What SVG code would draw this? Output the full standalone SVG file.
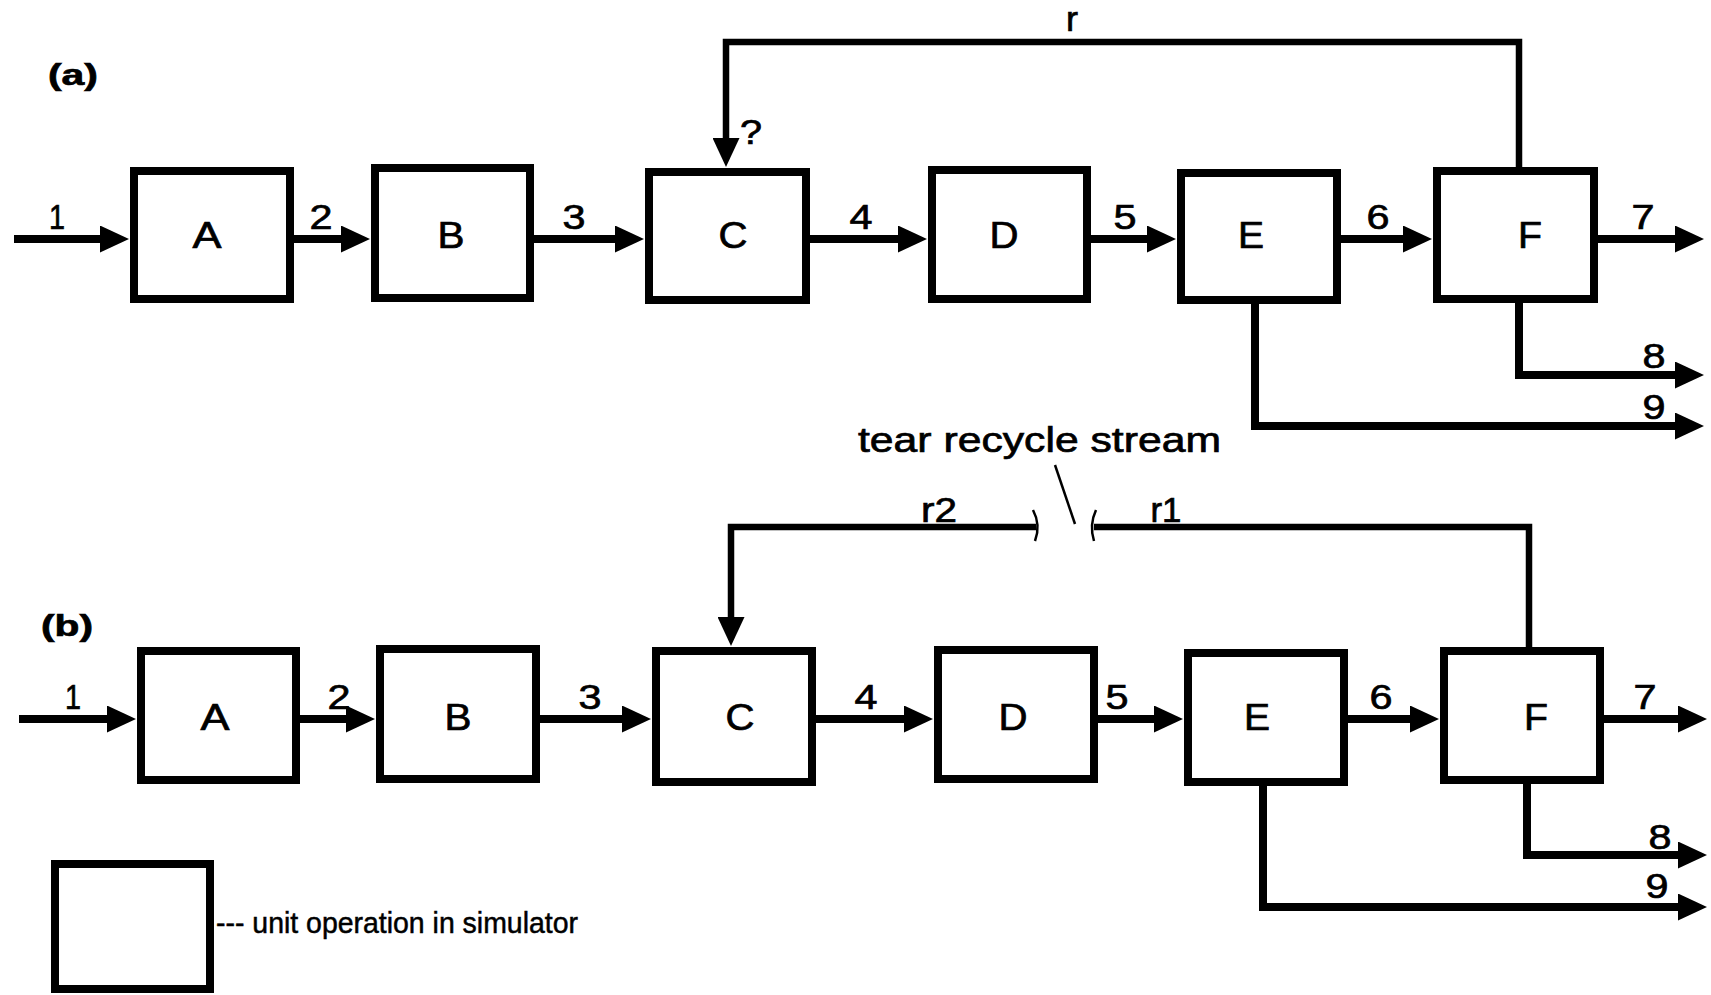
<svg xmlns="http://www.w3.org/2000/svg" width="1711" height="995" viewBox="0 0 1711 995">
<style>
.box{fill:#fff;stroke:#000;stroke-width:8}
.ln{fill:none;stroke:#000;stroke-width:8;stroke-linejoin:miter;stroke-linecap:butt}
.rc{fill:none;stroke:#000;stroke-width:6.5}
.arr{marker-end:url(#ah)}
.t{font-family:"Liberation Sans",Arial,sans-serif;fill:#000;stroke:#000;stroke-width:0.7;text-anchor:middle}
.lt{font-size:36px}
.dg{font-size:35px}
.pl{font-size:30px;font-weight:bold}
.thin{fill:none;stroke:#000;stroke-width:2.5}
</style>
<defs>
<marker id="ah" markerUnits="userSpaceOnUse" markerWidth="29" markerHeight="27" refX="15" refY="13.5" orient="auto" viewBox="0 0 29 27">
<path d="M0,0 L29,13.5 L0,27 Z" fill="#000"/>
</marker>
</defs>
<rect width="1711" height="995" fill="#fff"/>

<!-- Panel (a) -->
<text class="t pl" x="73" y="85" textLength="50" lengthAdjust="spacingAndGlyphs">(a)</text>
<g id="connectors-a">
<line class="ln arr" x1="14" y1="239" x2="115" y2="239"/>
<line class="ln arr" x1="294" y1="239" x2="356" y2="239"/>
<line class="ln arr" x1="534" y1="239" x2="630" y2="239"/>
<line class="ln arr" x1="810" y1="239" x2="913" y2="239"/>
<line class="ln arr" x1="1091" y1="239" x2="1162" y2="239"/>
<line class="ln arr" x1="1341" y1="239" x2="1418" y2="239"/>
<line class="ln arr" x1="1598" y1="239" x2="1690" y2="239"/>
<polyline class="rc arr" points="1519,167 1519,42 726,42 726,153"/>
<polyline class="ln arr" points="1519,303 1519,375 1690,375"/>
<polyline class="ln arr" points="1255,304 1255,426 1690,426"/>
<text class="t dg" x="57" y="229" textLength="16" lengthAdjust="spacingAndGlyphs">1</text>
<text class="t dg" x="321" y="229" textLength="23" lengthAdjust="spacingAndGlyphs">2</text>
<text class="t dg" x="574" y="229" textLength="23" lengthAdjust="spacingAndGlyphs">3</text>
<text class="t dg" x="861" y="229" textLength="23" lengthAdjust="spacingAndGlyphs">4</text>
<text class="t dg" x="1125" y="229" textLength="23" lengthAdjust="spacingAndGlyphs">5</text>
<text class="t dg" x="1378" y="229" textLength="23" lengthAdjust="spacingAndGlyphs">6</text>
<text class="t dg" x="1643" y="229" textLength="23" lengthAdjust="spacingAndGlyphs">7</text>
<text class="t dg" x="1654" y="368" textLength="23" lengthAdjust="spacingAndGlyphs">8</text>
<text class="t dg" x="1654" y="419" textLength="23" lengthAdjust="spacingAndGlyphs">9</text>
<text class="t dg" x="1072" y="31" textLength="12" lengthAdjust="spacingAndGlyphs">r</text>
<text class="t dg" x="751" y="144" textLength="22" lengthAdjust="spacingAndGlyphs">?</text>
</g>
<g id="a-A"><rect class="box" x="134" y="171" width="156" height="128"/><text class="t lt" x="207" y="248" textLength="29" lengthAdjust="spacingAndGlyphs">A</text></g>
<g id="a-B"><rect class="box" x="375" y="168" width="155" height="130"/><text class="t lt" x="451" y="248" textLength="27" lengthAdjust="spacingAndGlyphs">B</text></g>
<g id="a-C"><rect class="box" x="649" y="172" width="157" height="128"/><text class="t lt" x="733" y="248" textLength="29" lengthAdjust="spacingAndGlyphs">C</text></g>
<g id="a-D"><rect class="box" x="932" y="170" width="155" height="129"/><text class="t lt" x="1004" y="248" textLength="29" lengthAdjust="spacingAndGlyphs">D</text></g>
<g id="a-E"><rect class="box" x="1181" y="173" width="156" height="127"/><text class="t lt" x="1251" y="248" textLength="26" lengthAdjust="spacingAndGlyphs">E</text></g>
<g id="a-F"><rect class="box" x="1437" y="171" width="157" height="128"/><text class="t lt" x="1530" y="248" textLength="24" lengthAdjust="spacingAndGlyphs">F</text></g>

<!-- Panel (b) -->
<text class="t" style="font-size:35px;text-anchor:start" x="858" y="452" textLength="363" lengthAdjust="spacingAndGlyphs">tear recycle stream</text>
<text class="t pl" x="67" y="636" textLength="52" lengthAdjust="spacingAndGlyphs">(b)</text>
<g id="connectors-b">
<line class="ln arr" x1="19" y1="719" x2="122" y2="719"/>
<line class="ln arr" x1="300" y1="719" x2="361" y2="719"/>
<line class="ln arr" x1="540" y1="719" x2="637" y2="719"/>
<line class="ln arr" x1="816" y1="719" x2="919" y2="719"/>
<line class="ln arr" x1="1098" y1="719" x2="1169" y2="719"/>
<line class="ln arr" x1="1348" y1="719" x2="1425" y2="719"/>
<line class="ln arr" x1="1604" y1="719" x2="1693" y2="719"/>
<polyline class="rc" points="1529,647 1529,527 1094,527"/>
<polyline class="rc arr" points="1036,527 731,527 731,632"/>
<path class="thin" d="M1033,510 Q1041,525 1035,541"/>
<path class="thin" d="M1096,510 Q1089,525 1094,541"/>
<line class="thin" x1="1055" y1="465" x2="1075" y2="524"/>
<polyline class="ln arr" points="1527,784 1527,855 1693,855"/>
<polyline class="ln arr" points="1263,786 1263,907 1693,907"/>
<text class="t dg" x="73" y="709" textLength="16" lengthAdjust="spacingAndGlyphs">1</text>
<text class="t dg" x="339" y="709" textLength="23" lengthAdjust="spacingAndGlyphs">2</text>
<text class="t dg" x="590" y="709" textLength="23" lengthAdjust="spacingAndGlyphs">3</text>
<text class="t dg" x="866" y="709" textLength="23" lengthAdjust="spacingAndGlyphs">4</text>
<text class="t dg" x="1117" y="709" textLength="23" lengthAdjust="spacingAndGlyphs">5</text>
<text class="t dg" x="1381" y="709" textLength="23" lengthAdjust="spacingAndGlyphs">6</text>
<text class="t dg" x="1645" y="709" textLength="23" lengthAdjust="spacingAndGlyphs">7</text>
<text class="t dg" x="1660" y="849" textLength="23" lengthAdjust="spacingAndGlyphs">8</text>
<text class="t dg" x="1657" y="898" textLength="23" lengthAdjust="spacingAndGlyphs">9</text>
<text class="t dg" x="939" y="522" textLength="36" lengthAdjust="spacingAndGlyphs">r2</text>
<text class="t dg" x="1166" y="522" textLength="31" lengthAdjust="spacingAndGlyphs">r1</text>
</g>
<g id="b-A"><rect class="box" x="141" y="651" width="155" height="129"/><text class="t lt" x="215" y="730" textLength="29" lengthAdjust="spacingAndGlyphs">A</text></g>
<g id="b-B"><rect class="box" x="380" y="649" width="156" height="130"/><text class="t lt" x="458" y="730" textLength="27" lengthAdjust="spacingAndGlyphs">B</text></g>
<g id="b-C"><rect class="box" x="656" y="651" width="156" height="131"/><text class="t lt" x="740" y="730" textLength="29" lengthAdjust="spacingAndGlyphs">C</text></g>
<g id="b-D"><rect class="box" x="938" y="650" width="156" height="129"/><text class="t lt" x="1013" y="730" textLength="29" lengthAdjust="spacingAndGlyphs">D</text></g>
<g id="b-E"><rect class="box" x="1188" y="653" width="156" height="129"/><text class="t lt" x="1257" y="730" textLength="26" lengthAdjust="spacingAndGlyphs">E</text></g>
<g id="b-F"><rect class="box" x="1444" y="651" width="156" height="129"/><text class="t lt" x="1536" y="730" textLength="24" lengthAdjust="spacingAndGlyphs">F</text></g>

<!-- Legend -->
<g id="legend">
<rect class="box" x="55" y="864" width="155" height="125"/>
<text class="t" style="font-size:30px;text-anchor:start;stroke-width:0.5" x="216" y="933" textLength="362" lengthAdjust="spacingAndGlyphs">--- unit operation in simulator</text>
</g>
</svg>
